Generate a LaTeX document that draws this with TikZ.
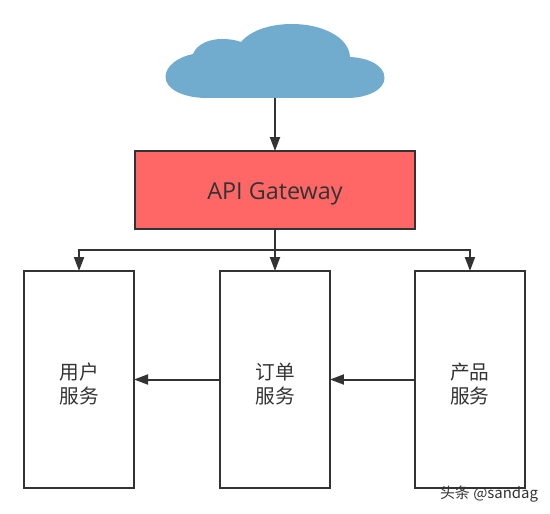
\documentclass[tikz,border=0pt]{standalone}
\usepackage{fontspec}
\setmainfont{Open Sans}
\newfontfamily\cjk{Noto Sans CJK SC}
\usepackage{xcolor}
\usetikzlibrary{arrows.meta,positioning}

\definecolor{linegray}{HTML}{333333}
\definecolor{cloudblue}{HTML}{71ACCF}
\definecolor{gatewayred}{HTML}{FF6666}

\newcommand{\dropline}{\rule{0pt}{14.5pt}}

\begin{document}
\begin{tikzpicture}[
    x=0.02cm, y=-0.02cm,
    font=\cjk\fontsize{11.2}{13.2}\selectfont,
    box/.style={draw=linegray, line width=0.04cm, outer sep=0pt, inner sep=0pt, align=center, text=linegray},
    service/.style={box, minimum width=2.2cm, minimum height=4.34cm},
    arr/.style={-{Triangle[length=0.28cm, width=0.2cm]}, draw=linegray, line width=0.04cm}
]
\useasboundingbox (0,0) rectangle (550,513);

% cloud
\fill[cloudblue] (207,98) .. controls (183,98) and (165.5,89) .. (165.5,77)
    .. controls (165.5,66) and (178,57) .. (193,54)
    .. controls (197,44) and (209,39) .. (222,39)
    .. controls (229,39) and (236,40) .. (241,42)
    .. controls (251,30) and (271,24) .. (292,24)
    .. controls (322,24) and (349,37) .. (350,57)
    .. controls (370,58) and (384.5,66) .. (384.5,78)
    .. controls (384.5,90) and (367,98) .. (347,98) -- cycle;
\coordinate (cloud) at (275,98);

\node[box, fill=gatewayred, minimum width=5.62cm, minimum height=1.56cm, text height=14.1pt] (gateway) at (275,190)
    {\fontspec{Open Sans}\fontsize{13.3}{15}\selectfont API Gateway};

\node[service] (order) at (275,379.5) {\dropline 订单\\服务};
\node[service, left=1.72cm of order] (user) {\dropline 用户\\服务};
\node[service, right=1.7cm of order] (product) {\dropline 产品\\服务};

\coordinate[below=0.42cm of gateway] (split);

\draw[arr] (cloud) -- (gateway);
\draw[arr] (gateway) -- (order);
\draw[arr] (split) -| (user);
\draw[arr] (split) -| (product);
\draw[arr] (order) -- (user);
\draw[arr] (product) -- (order);

\node[text=linegray, font=\cjk\fontsize{8.5}{9}\selectfont] (mark) at (489,494) {头条 @sandag};
\end{tikzpicture}
\end{document}
